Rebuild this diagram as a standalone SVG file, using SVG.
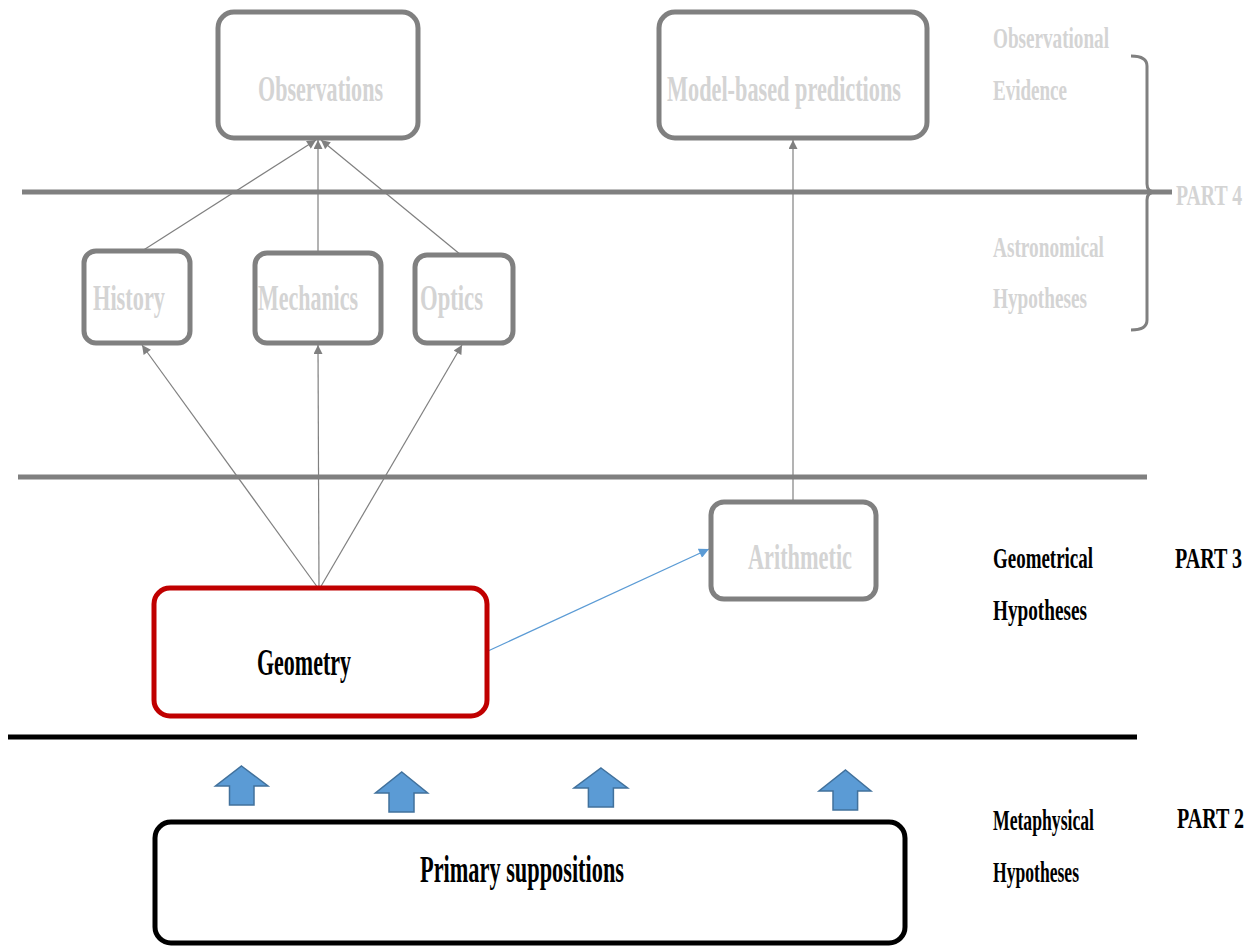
<svg xmlns="http://www.w3.org/2000/svg" width="1253" height="947" viewBox="0 0 1253 947">
<defs>
<style>
text{font-family:"Liberation Serif","Times New Roman",serif;font-weight:bold;}
.lt{fill:#d4d4d4;}
.dk{fill:#000;}
.gbox{fill:#fff;stroke:#808080;stroke-width:5;}
.conn{stroke:#808080;stroke-width:1.2;fill:none;}
.blk{fill:#5b9bd5;stroke:#41719c;stroke-width:1.5;}
</style>
<marker id="ah" viewBox="0 0 10 10" refX="10" refY="5" markerWidth="10" markerHeight="9" markerUnits="userSpaceOnUse" orient="auto">
<path d="M0,0 L10,5 L0,10 z" fill="#808080"/>
</marker>
<marker id="ahb" viewBox="0 0 10 10" refX="10" refY="5" markerWidth="12" markerHeight="10" markerUnits="userSpaceOnUse" orient="auto">
<path d="M0,0 L10,5 L0,10 z" fill="#5b9bd5"/>
</marker>
</defs>
<rect width="1253" height="947" fill="#fff"/>

<g id="dividers">
<line x1="22" y1="192" x2="1172" y2="192" stroke="#808080" stroke-width="5"/>
<line x1="18" y1="477" x2="1147" y2="477" stroke="#808080" stroke-width="5"/>
<line x1="8" y1="737" x2="1137" y2="737" stroke="#000" stroke-width="5"/>
<path d="M1131,56 Q1147,56 1147,66 L1147,184 Q1147,192 1155,192 Q1147,192 1147,200 L1147,320 Q1147,330 1131,330" fill="none" stroke="#808080" stroke-width="3"/>
</g>

<g id="connectors">
<line class="conn" x1="142" y1="251" x2="316" y2="140" marker-end="url(#ah)"/>
<line class="conn" x1="318" y1="253" x2="318" y2="140" marker-end="url(#ah)"/>
<line class="conn" x1="461" y1="255" x2="321" y2="140" marker-end="url(#ah)"/>
<line class="conn" x1="793" y1="502" x2="793" y2="140" marker-end="url(#ah)"/>
<line class="conn" x1="318" y1="588" x2="142" y2="345" marker-end="url(#ah)"/>
<line class="conn" x1="319" y1="588" x2="318" y2="345" marker-end="url(#ah)"/>
<line class="conn" x1="320" y1="588" x2="462" y2="345" marker-end="url(#ah)"/>
<line x1="488" y1="651" x2="709" y2="549" stroke="#5b9bd5" stroke-width="1.3" marker-end="url(#ahb)"/>
</g>

<g id="observations">
<rect class="gbox" x="218" y="12" width="200" height="126" rx="16"/>
<text class="lt" transform="translate(258,101) scale(0.62,1)" font-size="36" textLength="201.6" lengthAdjust="spacingAndGlyphs">Observations</text>
</g>
<g id="model-predictions">
<rect class="gbox" x="659" y="12" width="268" height="126" rx="16"/>
<text class="lt" transform="translate(667,101) scale(0.62,1)" font-size="36" textLength="377.4" lengthAdjust="spacingAndGlyphs">Model-based predictions</text>
</g>
<g id="history">
<rect class="gbox" x="84" y="251" width="106" height="92" rx="12"/>
<text class="lt" transform="translate(93,310) scale(0.62,1)" font-size="36" textLength="116.1" lengthAdjust="spacingAndGlyphs">History</text>
</g>
<g id="mechanics">
<rect class="gbox" x="255" y="253" width="126" height="90" rx="12"/>
<text class="lt" transform="translate(258,310) scale(0.62,1)" font-size="36" textLength="161.3" lengthAdjust="spacingAndGlyphs">Mechanics</text>
</g>
<g id="optics">
<rect class="gbox" x="415" y="255" width="98" height="88" rx="12"/>
<text class="lt" transform="translate(420,310) scale(0.62,1)" font-size="36" textLength="101.6" lengthAdjust="spacingAndGlyphs">Optics</text>
</g>
<g id="arithmetic">
<rect class="gbox" x="711" y="502" width="165" height="97" rx="13"/>
<text class="lt" transform="translate(748,569) scale(0.62,1)" font-size="36" textLength="167.7" lengthAdjust="spacingAndGlyphs">Arithmetic</text>
</g>
<g id="geometry">
<rect x="154" y="588" width="333" height="128" rx="16" fill="#fff" stroke="#c00000" stroke-width="5"/>
<text class="dk" transform="translate(257,675) scale(0.62,1)" font-size="38" textLength="151.6" lengthAdjust="spacingAndGlyphs">Geometry</text>
</g>
<g id="primary-suppositions">
<rect x="155" y="822" width="750" height="121" rx="16" fill="#fff" stroke="#000" stroke-width="5"/>
<text class="dk" transform="translate(420,882) scale(0.62,1)" font-size="38" textLength="329" lengthAdjust="spacingAndGlyphs">Primary suppositions</text>
</g>

<g id="block-arrows">
<path class="blk" d="M241.5,766 L268,786 L254,786 L254,805 L229.5,805 L229.5,786 L215.5,786 Z"/>
<path class="blk" d="M401.8,772 L427.7,793 L414,793 L414,812 L389,812 L389,793 L375.4,793 Z"/>
<path class="blk" d="M601,768 L627.7,788 L613.4,788 L613.4,807 L588.4,807 L588.4,788 L574,788 Z"/>
<path class="blk" d="M845.5,770 L871,791 L857.6,791 L857.6,810 L833,810 L833,791 L819,791 Z"/>
</g>

<g id="side-labels">
<text class="lt" transform="translate(993,48) scale(0.62,1)" font-size="30" textLength="187.1" lengthAdjust="spacingAndGlyphs">Observational</text>
<text class="lt" transform="translate(993,100) scale(0.62,1)" font-size="30" textLength="119.4" lengthAdjust="spacingAndGlyphs">Evidence</text>
<text class="lt" transform="translate(1176,205) scale(0.62,1)" font-size="30" textLength="106.5" lengthAdjust="spacingAndGlyphs">PART 4</text>
<text class="lt" transform="translate(993,257) scale(0.62,1)" font-size="30" textLength="179" lengthAdjust="spacingAndGlyphs">Astronomical</text>
<text class="lt" transform="translate(993,308) scale(0.62,1)" font-size="30" textLength="151.6" lengthAdjust="spacingAndGlyphs">Hypotheses</text>
<text class="dk" transform="translate(993,568) scale(0.62,1)" font-size="30" textLength="161.3" lengthAdjust="spacingAndGlyphs">Geometrical</text>
<text class="dk" transform="translate(993,620) scale(0.62,1)" font-size="30" textLength="151.6" lengthAdjust="spacingAndGlyphs">Hypotheses</text>
<text class="dk" transform="translate(1175,568) scale(0.62,1)" font-size="30" textLength="108.1" lengthAdjust="spacingAndGlyphs">PART 3</text>
<text class="dk" transform="translate(993,830) scale(0.62,1)" font-size="30" textLength="162.9" lengthAdjust="spacingAndGlyphs">Metaphysical</text>
<text class="dk" transform="translate(993,882) scale(0.62,1)" font-size="30" textLength="138.7" lengthAdjust="spacingAndGlyphs">Hypotheses</text>
<text class="dk" transform="translate(1177,828) scale(0.62,1)" font-size="30" textLength="108.1" lengthAdjust="spacingAndGlyphs">PART 2</text>
</g>
</svg>
